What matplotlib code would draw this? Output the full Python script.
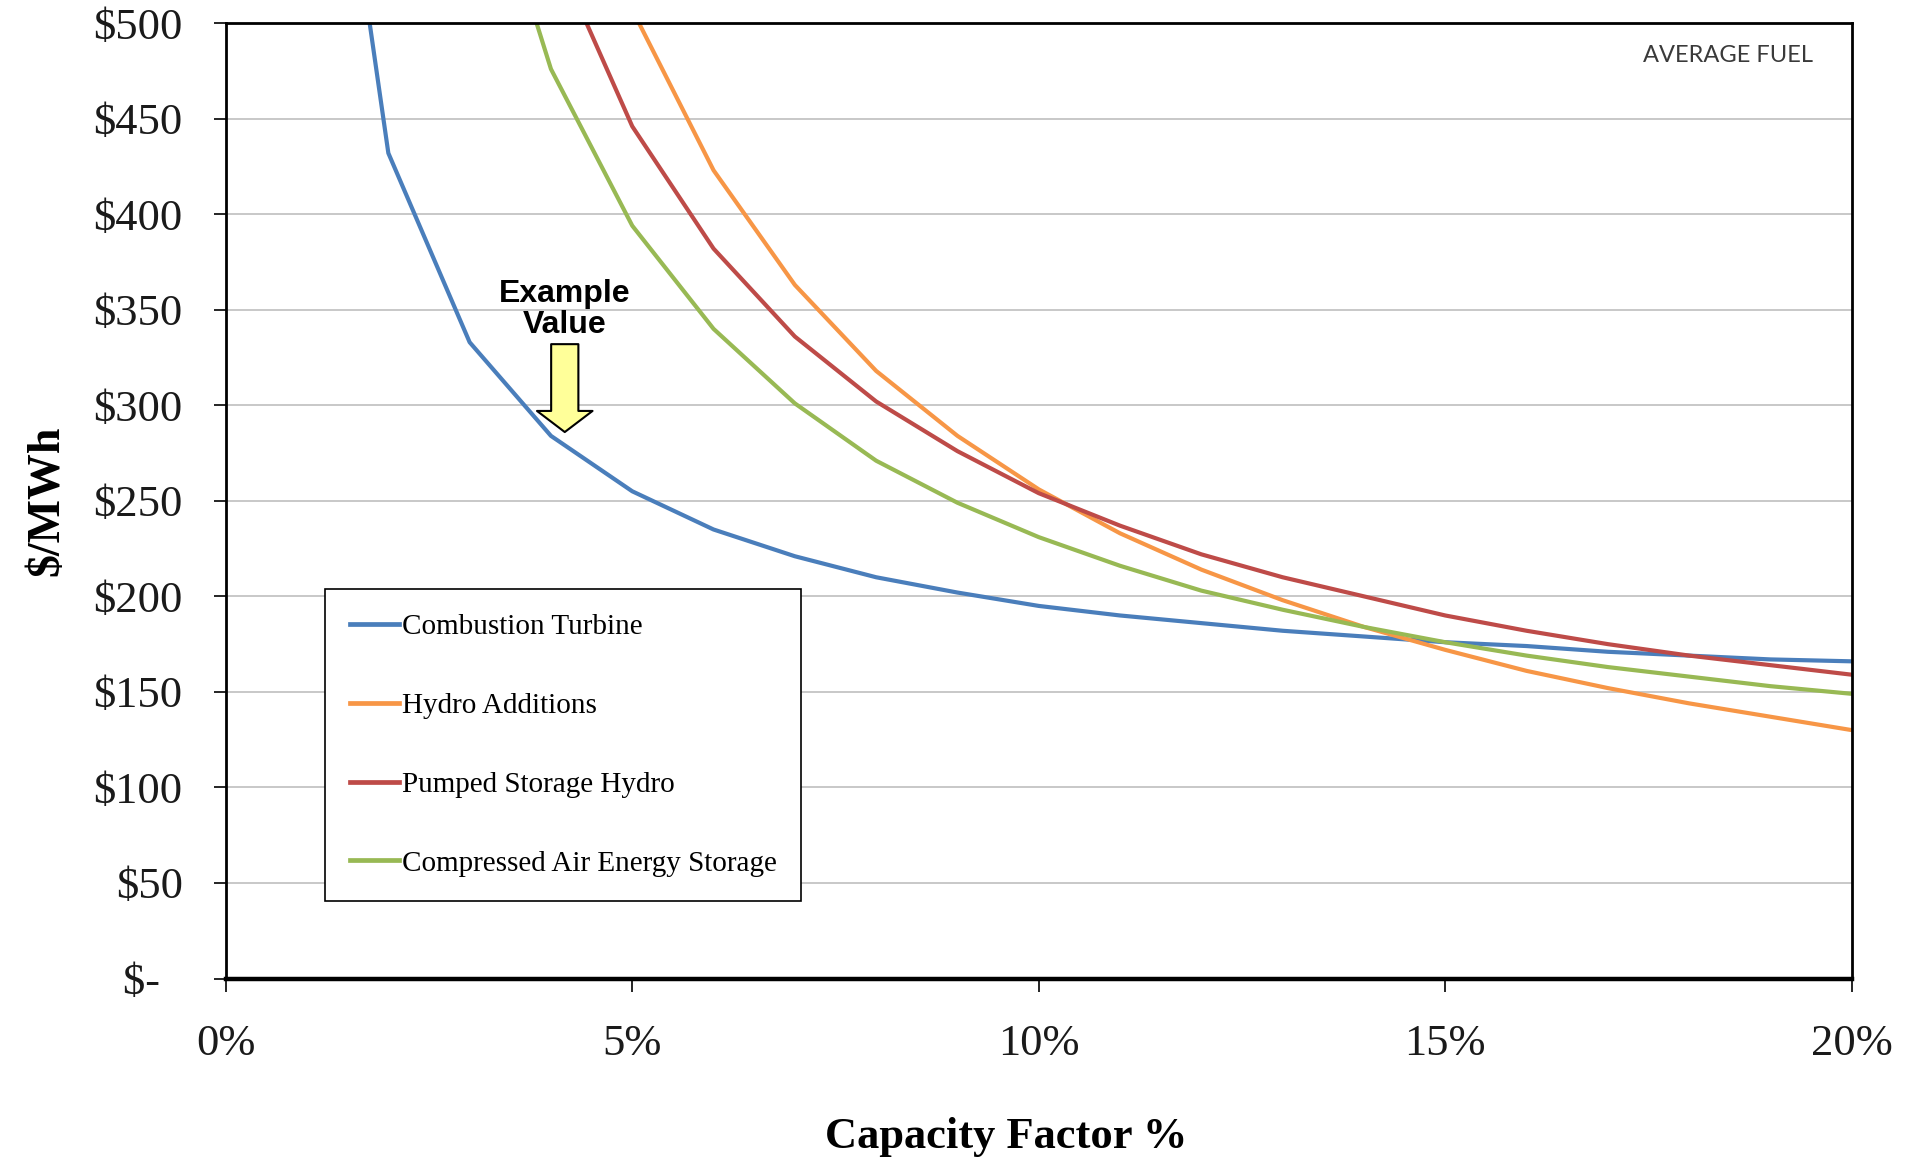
import matplotlib
matplotlib.use("Agg")
import matplotlib.pyplot as plt
from matplotlib.ticker import FuncFormatter, MultipleLocator

# capacity factor (fraction) and levelized cost ($/MWh) per technology
cf_ct = [0.01, 0.02, 0.03, 0.04, 0.05, 0.06, 0.07, 0.08, 0.09, 0.10,
         0.11, 0.12, 0.13, 0.14, 0.15, 0.16, 0.17, 0.18, 0.19, 0.20]
cost_ct = [728, 432, 333, 284, 255, 235, 221, 210, 202, 195,
           190, 186, 182, 179, 176, 174, 171, 169, 167, 166]

cf_hydro = [0.04, 0.05, 0.06, 0.07, 0.08, 0.09, 0.10, 0.11, 0.12,
            0.13, 0.14, 0.15, 0.16, 0.17, 0.18, 0.19, 0.20]
cost_hydro = [632, 507, 423, 363, 318, 284, 256, 233, 214,
              198, 184, 172, 161, 152, 144, 137, 130]

cf_psh = [0.04, 0.05, 0.06, 0.07, 0.08, 0.09, 0.10, 0.11, 0.12,
          0.13, 0.14, 0.15, 0.16, 0.17, 0.18, 0.19, 0.20]
cost_psh = [542, 446, 382, 336, 302, 276, 254, 237, 222,
            210, 200, 190, 182, 175, 169, 164, 159]

cf_caes = [0.03, 0.04, 0.05, 0.06, 0.07, 0.08, 0.09, 0.10, 0.11, 0.12,
           0.13, 0.14, 0.15, 0.16, 0.17, 0.18, 0.19, 0.20]
cost_caes = [612, 476, 394, 340, 301, 271, 249, 231, 216, 203,
             193, 184, 176, 169, 163, 158, 153, 149]

series = [
    ("Combustion Turbine", cf_ct, cost_ct, "#4A7EBB"),
    ("Hydro Additions", cf_hydro, cost_hydro, "#F79646"),
    ("Pumped Storage Hydro", cf_psh, cost_psh, "#BE4B48"),
    ("Compressed Air Energy Storage", cf_caes, cost_caes, "#98B954"),
]

example_cf = 0.0417
example_cost = 286

serif = "Liberation Serif"

fig = plt.figure(figsize=(19.13, 11.58), dpi=100)
ax = fig.add_axes([0.118, 0.155, 0.850, 0.825])

for name, x, y, color in series:
    ax.plot(x, y, color=color, lw=3.0, label=name, solid_joinstyle="round")

ax.set_xlim(0, 0.20)
ax.set_ylim(0, 500)
ax.xaxis.set_major_locator(MultipleLocator(0.05))
ax.yaxis.set_major_locator(MultipleLocator(50))
ax.xaxis.set_major_formatter(FuncFormatter(lambda v, p: f"{v*100:.0f}%"))
ax.yaxis.set_major_formatter(
    FuncFormatter(lambda v, p: "$-  " if v == 0 else f"${v:.0f}"))

ax.grid(axis="y", color="#C8C8C8", lw=1.4)
ax.set_axisbelow(True)
for side in ["left", "right", "top"]:
    ax.spines[side].set_linewidth(2.0)
    ax.spines[side].set_color("black")
ax.spines["bottom"].set_linewidth(3.2)

ax.tick_params(axis="both", direction="out", length=9, width=1.2,
               colors="black")
ax.tick_params(axis="y", pad=22)
ax.tick_params(axis="x", pad=24)
for lab in ax.get_xticklabels() + ax.get_yticklabels():
    lab.set_fontfamily(serif)
    lab.set_fontsize(32)
    lab.set_color("#1a1a1a")

ax.set_xlabel("Capacity Factor %", fontfamily=serif, fontsize=32,
              fontweight="bold", labelpad=38)
ax.xaxis.label.set_x(0.48)
ax.set_ylabel("$/MWh", fontfamily=serif, fontsize=33, fontweight="bold",
              labelpad=18)

leg = ax.legend(loc="upper left", bbox_to_anchor=(0.061, 0.408),
                borderaxespad=0, fancybox=False, framealpha=1,
                edgecolor="black", handlelength=1.7, handletextpad=0.08,
                labelspacing=1.8, borderpad=0.85,
                prop={"family": serif, "size": 21})
leg.get_frame().set_linewidth(1.2)
for h in leg.get_lines():
    h.set_linewidth(3.4)

ax.text(0.976, 0.966, "AVERAGE FUEL", transform=ax.transAxes,
        ha="right", va="center", fontfamily="Lato", fontsize=17,
        color="#3a3a3a")

# example value call-out on the combustion turbine curve
ax.annotate("", xy=(example_cf, example_cost), xytext=(example_cf, 332),
            arrowprops=dict(arrowstyle="simple,head_length=0.38,head_width=1.0,tail_width=0.49",
                            mutation_scale=40, fc="#FFFF99", ec="black",
                            lw=1.5, shrinkA=0, shrinkB=0))
ax.text(example_cf, 334, "Example\nValue", ha="center", va="bottom",
        fontfamily="Liberation Sans", fontweight="bold", fontsize=23,
        linespacing=1.05)

fig.savefig("out.png", dpi=100, facecolor="white")
